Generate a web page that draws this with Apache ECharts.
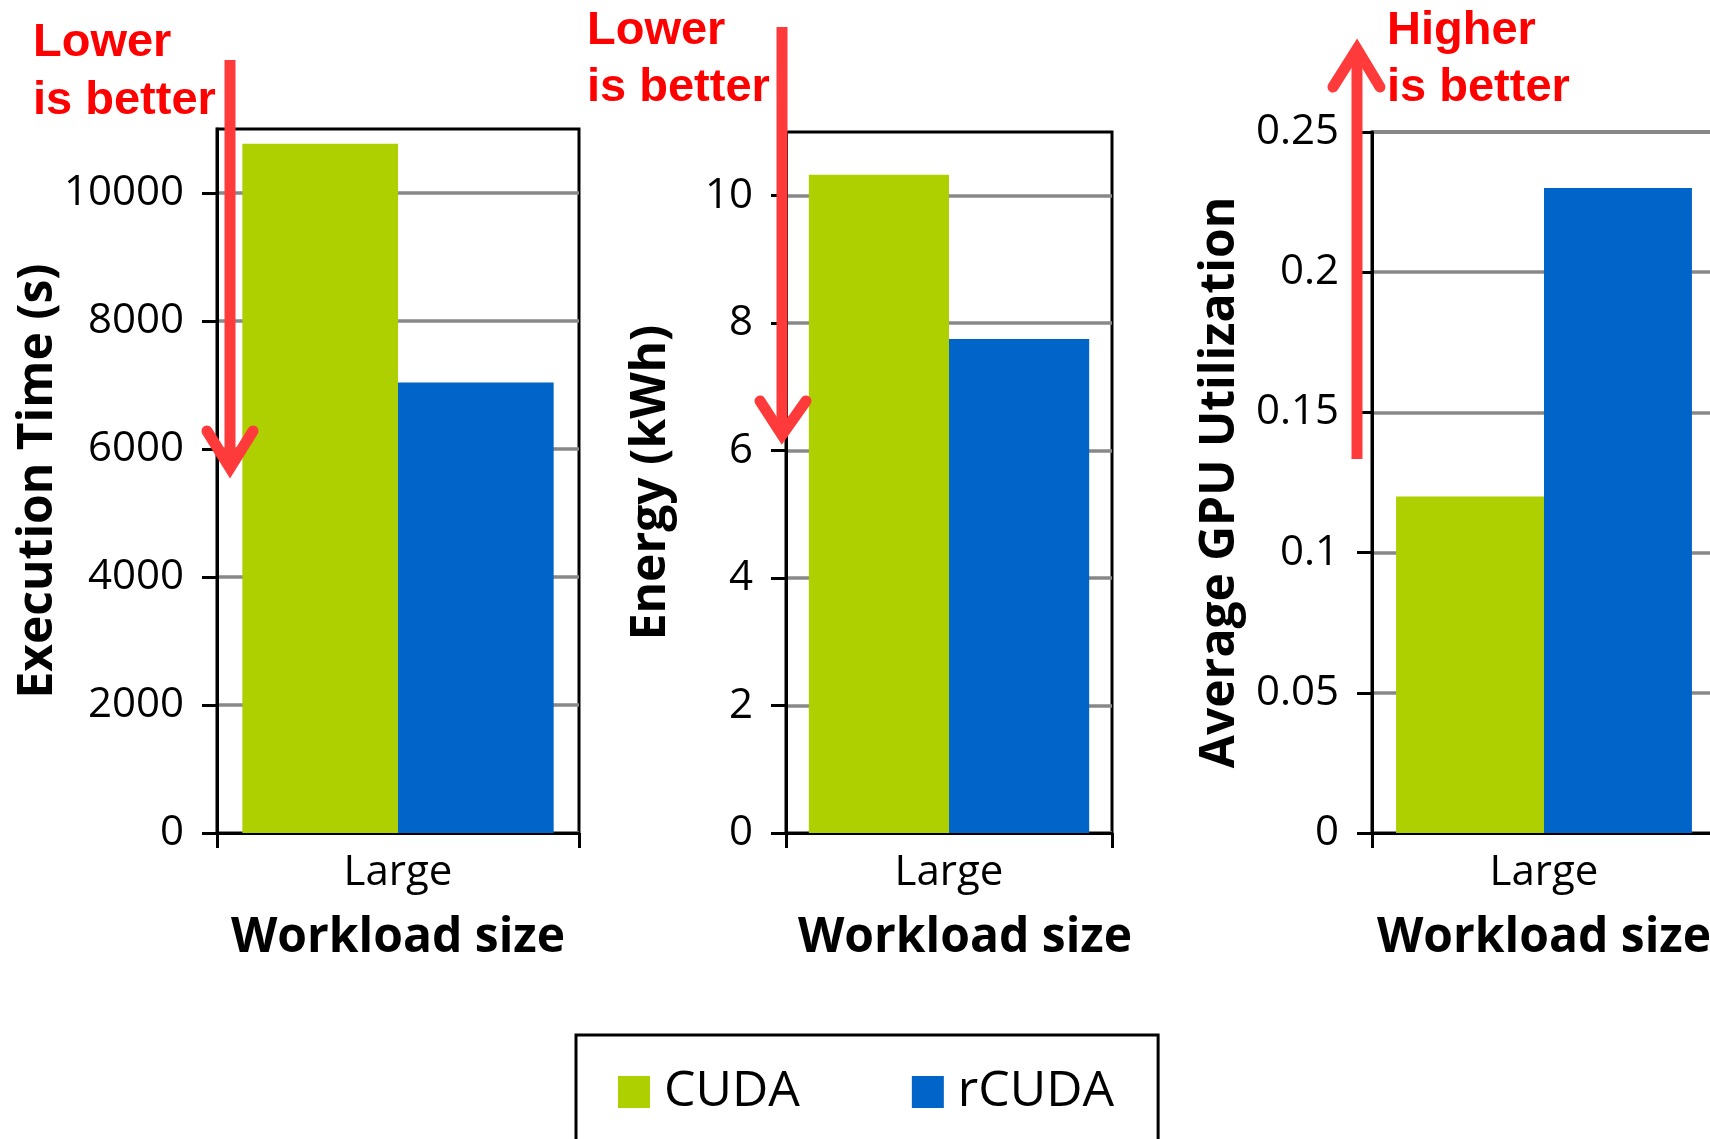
<!DOCTYPE html>
<html>
<head>
<meta charset="utf-8">
<style>
  html, body { margin: 0; padding: 0; background: #fff; }
  #chart { width: 1710px; height: 1139px; }
</style>
<script src="https://cdn.jsdelivr.net/npm/echarts@6/dist/echarts.min.js"></script>
</head>
<body>
<div id="chart"></div>
<script>
// ---- data ----
const categories = ['Large'];
const seriesNames = ['CUDA', 'rCUDA'];

const execTimeCuda = [10770];
const execTimeRcuda = [7040];
const energyCuda = [10.33];
const energyRcuda = [7.75];
const gpuUtilCuda = [0.12];
const gpuUtilRcuda = [0.23];

const execTimeTicks = [0, 2000, 4000, 6000, 8000, 10000];
const energyTicks = [0, 2, 4, 6, 8, 10];
const gpuUtilTicks = [0, 0.05, 0.1, 0.15, 0.2, 0.25];

// ---- styling ----
const FONT = "'Open Sans', sans-serif";
const NOTE_FONT = "'Liberation Sans', Arial, sans-serif";
const GREEN = '#AFD000';
const BLUE = '#0064C8';
const NOTE_RED = '#FF0000';
const ARROW_RED = '#FF3A3A';

const chart = echarts.init(document.getElementById('chart'), null, { renderer: 'canvas' });

function makeYAxis(i, name, max, interval, ticks, gap) {
  return {
    type: 'value', gridIndex: i, min: 0, max: max, interval: interval,
    name: name, nameLocation: 'middle', nameGap: gap, nameMoveOverlap: false,
    nameTextStyle: { fontFamily: FONT, fontWeight: 'bold', fontSize: 48, color: '#000' },
    axisLine: { show: true, lineStyle: { color: '#000', width: 3 } },
    axisTick: { show: true, length: 15, lineStyle: { color: '#000', width: 3 }, customValues: ticks },
    axisLabel: { fontFamily: FONT, fontSize: 42, color: '#000', margin: 33, customValues: ticks,
                 formatter: function (v) { return String(v); } },
    splitLine: { show: true, lineStyle: { color: '#888888', width: 3.5 } }
  };
}

function makeXAxis(i, padLeft) {
  return {
    type: 'category', gridIndex: i, data: categories,
    name: 'Workload size', nameLocation: 'middle', nameGap: 81, nameMoveOverlap: false,
    nameTextStyle: { fontFamily: FONT, fontWeight: 'bold', fontSize: 48, color: '#000', padding: [0, 0, 0, padLeft] },
    axisLine: { show: true, lineStyle: { color: '#000', width: 3 } },
    axisTick: { show: true, length: 15, lineStyle: { color: '#000', width: 3 } },
    axisLabel: { fontFamily: FONT, fontSize: 42, color: '#000', margin: 19 },
    splitLine: { show: false }
  };
}

function makeBars(i, cudaVals, rcudaVals) {
  const common = { type: 'bar', xAxisIndex: i, yAxisIndex: i, barGap: '0%', barCategoryGap: '14%',
                   emphasis: { disabled: true } };
  return [
    Object.assign({ name: seriesNames[0], data: cudaVals, itemStyle: { color: GREEN } }, common),
    Object.assign({ name: seriesNames[1], data: rcudaVals, itemStyle: { color: BLUE } }, common)
  ];
}

function makeGrid(left, top, width, height) {
  return { left: left, top: top, width: width, height: height, show: true,
           borderColor: '#000', borderWidth: 3, backgroundColor: 'transparent',
           containLabel: false, outerBoundsMode: 'none' };
}

function noteText(x, y, text) {
  return {
    type: 'text', x: x, y: y, z: 100,
    style: {
      text: text, fill: NOTE_RED, fontFamily: NOTE_FONT, fontWeight: 'bold', fontSize: 47,
      align: 'left', verticalAlign: 'middle', textAlign: 'left', textVerticalAlign: 'middle'
    }
  };
}

function arrowShaft(x, y1, y2) {
  return { type: 'line', z: 100, shape: { x1: x, y1: y1, x2: x, y2: y2 },
           style: { stroke: ARROW_RED, lineWidth: 11, lineCap: 'butt' } };
}

function arrowHead(points) {
  return { type: 'polyline', z: 100, shape: { points: points },
           style: { stroke: ARROW_RED, fill: null, lineWidth: 11, lineCap: 'round', lineJoin: 'miter' } };
}

const option = {
  animation: false,
  backgroundColor: '#fff',
  textStyle: { fontFamily: FONT },
  grid: [
    makeGrid(217, 129, 362, 704),
    makeGrid(786, 132, 326, 701),
    makeGrid(1372, 132, 344, 701)
  ],
  xAxis: [makeXAxis(0, 0), makeXAxis(1, 32), makeXAxis(2, 0)],
  yAxis: [
    makeYAxis(0, 'Execution Time (s)', 11000, 2000, execTimeTicks, 155),
    makeYAxis(1, 'Energy (kWh)', 11, 2, energyTicks, 111),
    makeYAxis(2, 'Average GPU Utilization', 0.25, 0.05, gpuUtilTicks, 128)
  ],
  legend: {
    data: seriesNames, left: 576, top: 1035, orient: 'horizontal',
    padding: [32, 44, 38, 42], itemGap: 112, itemWidth: 32, itemHeight: 32, icon: 'rect',
    borderColor: '#000', borderWidth: 3, selectedMode: false,
    textStyle: { fontFamily: FONT, fontSize: 50, color: '#000', padding: [0, 0, 0, 9], lineHeight: 32 }
  },
  series: [].concat(
    makeBars(0, execTimeCuda, execTimeRcuda),
    makeBars(1, energyCuda, energyRcuda),
    makeBars(2, gpuUtilCuda, gpuUtilRcuda)
  ),
  graphic: [
    noteText(33, 43, 'Lower'),
    noteText(33, 101, 'is better'),
    noteText(587, 31, 'Lower'),
    noteText(587, 88, 'is better'),
    noteText(1387, 31, 'Higher'),
    noteText(1387, 88, 'is better'),
    arrowShaft(230, 60, 466),
    arrowHead([[207, 431], [230, 468], [253, 431]]),
    arrowShaft(782, 27, 433),
    arrowHead([[760, 401], [782, 435], [806, 401]]),
    arrowShaft(1357, 459, 51),
    arrowHead([[1333, 87], [1357, 49], [1380, 87]])
  ]
};

chart.setOption(option);
</script>
</body>
</html>
